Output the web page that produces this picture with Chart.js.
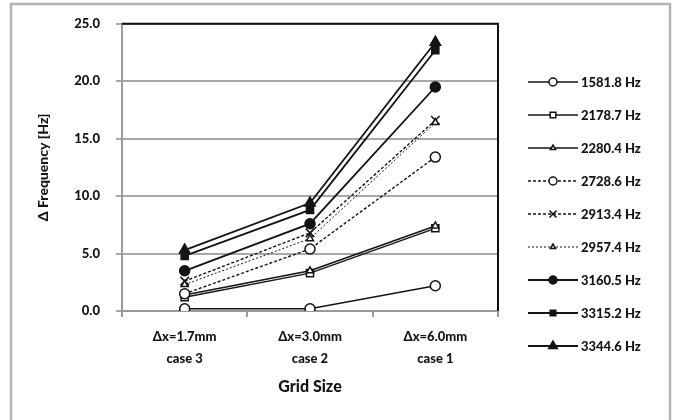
<!DOCTYPE html>
<html>
<head>
<meta charset="utf-8">
<script src="https://cdn.jsdelivr.net/npm/chart.js@4.4.0/dist/chart.umd.min.js"></script>
<style>
  html, body { margin: 0; padding: 0; background: #fff; }
  #wrap { width: 674px; height: 420px; position: relative; }
</style>
</head>
<body>
<div id="wrap"><canvas id="c" width="674" height="420"></canvas></div>
<script>
// categories (two-line labels)
const cases = [["Δx=1.7mm", "case 3"], ["Δx=3.0mm", "case 2"], ["Δx=6.0mm", "case 1"]];
const yTicks = [0, 5, 10, 15, 20, 25];

// Δ frequency per mode [Hz], case 3 / case 2 / case 1
const f1581 = [0.2, 0.2, 2.2];
const f2178 = [1.2, 3.3, 7.2];
const f2280 = [1.4, 3.5, 7.4];
const f2728 = [1.5, 5.4, 13.4];
const f2913 = [2.6, 6.8, 16.6];
const f2957 = [2.3, 6.3, 16.4];
const f3160 = [3.5, 7.6, 19.5];
const f3315 = [4.8, 8.8, 22.7];
const f3344 = [5.3, 9.4, 23.4];

const FONT = "Lato, 'Open Sans', sans-serif";
const INK  = "#141414";

function ds(label, data, style, filled, dash, width, r) {
  return {
    label, data,
    borderColor: INK, borderWidth: width, borderDash: dash,
    pointStyle: style, pointRadius: r, pointHoverRadius: r,
    pointBackgroundColor: filled ? INK : "#fff",
    pointBorderColor: INK, pointBorderWidth: 1.5,
    tension: 0, fill: false
  };
}

const datasets = [
  ds("1581.8 Hz", f1581, "circle",   false, [],     1.4, 5),
  ds("2178.7 Hz", f2178, "rect",     false, [],     1.4, 5),
  ds("2280.4 Hz", f2280, "triangle", false, [],     1.6, 4),
  ds("2728.6 Hz", f2728, "circle",   false, [3, 2], 1.4, 5),
  ds("2913.4 Hz", f2913, "crossRot", false, [3, 2], 1.4, 6),
  ds("2957.4 Hz", f2957, "triangle", false, [2, 2], 1.0, 4),
  ds("3160.5 Hz", f3160, "circle",   true,  [],     1.8, 5),
  ds("3315.2 Hz", f3315, "rect",     true,  [],     1.8, 5),
  ds("3344.6 Hz", f3344, "triangle", true,  [],     1.8, 6)
];
// draw the top series last like the original stacking
datasets.forEach((d, i) => d.order = datasets.length - i);

const frame = {
  id: "frame",
  beforeDraw(chart) {
    const c = chart.ctx;
    c.save();
    c.fillStyle = "#fff";
    c.fillRect(0, 0, chart.width, chart.height);
    c.strokeStyle = "#b4b4b4"; c.lineWidth = 2.5;
    c.strokeRect(11, 4, 659, 430);
    c.restore();
  },
  beforeDatasetsDraw(chart) {
    const a = chart.chartArea, c = chart.ctx;
    c.save();
    c.strokeStyle = "#111"; c.lineWidth = 2;
    c.beginPath();
    c.moveTo(a.left, a.top); c.lineTo(a.right, a.top); c.lineTo(a.right, a.bottom);
    c.stroke();
    c.restore();
  },
  afterDraw(chart) {
    const c = chart.ctx;
    c.save();
    c.font = "900 13px " + FONT;
    c.textBaseline = "middle";
    chart.data.datasets.forEach((d, i) => {
      const y = 82 + i * 33;
      c.strokeStyle = INK; c.lineWidth = d.borderWidth;
      c.setLineDash(d.borderDash);
      c.beginPath(); c.moveTo(528, y); c.lineTo(578, y); c.stroke();
      c.setLineDash([]);
      c.fillStyle = d.pointBackgroundColor; c.strokeStyle = INK; c.lineWidth = 1.5;
      Chart.helpers.drawPoint(c, { pointStyle: d.pointStyle, radius: d.pointRadius - 1, rotation: 0, borderWidth: 1.5 }, 553, y);
      c.fillStyle = INK;
      c.fillText(d.label, 581, y + 1);
    });
    c.restore();
  }
};

new Chart(document.getElementById("c"), {
  type: "line",
  data: { labels: cases, datasets },
  options: {
    responsive: false, animation: false, devicePixelRatio: 1,
    layout: { padding: { left: 35, right: 176, top: 23, bottom: 20 } },
    plugins: { legend: { display: false }, tooltip: { enabled: false } },
    scales: {
      x: {
        offset: true,
        grid: { offset: true, drawOnChartArea: false, color: "#9a9a9a", lineWidth: 2, tickLength: 6 },
        border: { color: "#9a9a9a", width: 2 },
        ticks: { color: INK, font: { family: FONT, size: 13, weight: "900", lineHeight: 1.75 }, padding: 8, maxRotation: 0 },
        title: { display: true, text: "Grid Size", color: INK, font: { family: FONT, size: 16, weight: "900" }, padding: { top: 6 } },
        afterFit: s => { s.height = 89; }
      },
      y: {
        min: 0, max: 25,
        afterBuildTicks: s => { s.ticks = yTicks.map(v => ({ value: v })); },
        grid: { color: "#a8a8a8", lineWidth: 2, tickLength: 6 },
        border: { color: "#9a9a9a", width: 2 },
        ticks: { color: INK, font: { family: FONT, size: 13, weight: "900" }, padding: 16, callback: v => v.toFixed(1) },
        title: { display: true, text: "Δ Frequency [Hz]", color: INK, font: { family: FONT, size: 14, weight: "900" }, padding: 0 },
        afterFit: s => { s.width = 87; }
      }
    }
  },
  plugins: [frame]
});
</script>
</body>
</html>
